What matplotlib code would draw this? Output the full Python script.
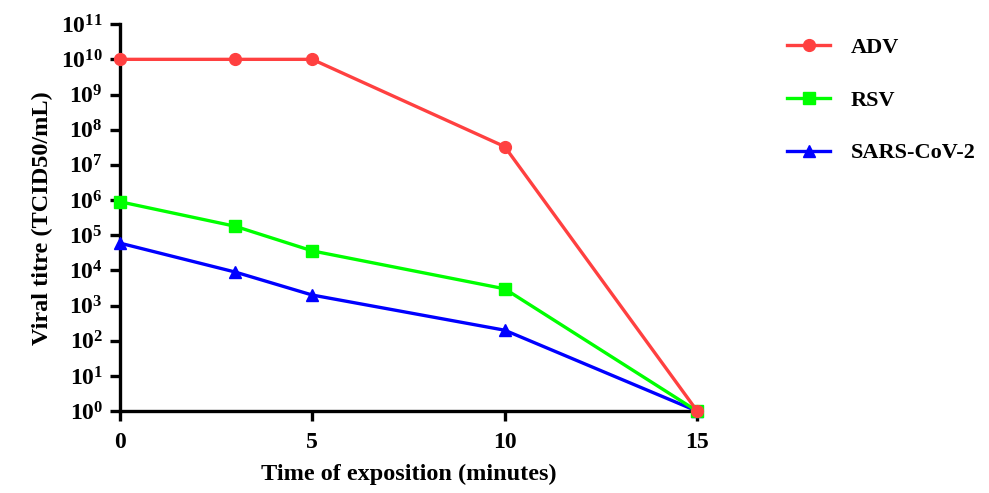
import numpy as np
import matplotlib
matplotlib.use('Agg')
import matplotlib.pyplot as plt
from matplotlib.ticker import FixedLocator, FuncFormatter, NullLocator

plt.rcParams['font.family'] = 'Liberation Serif'
plt.rcParams['font.weight'] = 'bold'
plt.rcParams['mathtext.fontset'] = 'custom'
plt.rcParams['mathtext.rm'] = 'Liberation Serif:bold'
plt.rcParams['mathtext.bf'] = 'Liberation Serif:bold'

# data
minutes = [0, 3, 5, 10, 15]
adv = [1e10, 1e10, 1e10, 3.3e7, 1]
rsv = [9e5, 1.8e5, 3.6e4, 3e3, 1]
sars = [6e4, 9e3, 2e3, 2e2, 1]
series_names = ['ADV', 'RSV', 'SARS-CoV-2']
series_colors = ['#FF4040', '#00FF00', '#0000FF']
series_markers = ['o', 's', '^']
xticks = [0, 5, 10, 15]
yexps = list(range(0, 12))

lineW = 2.4
tickSZ = 17
labelSZ = 17.5
legendSZ = 16

fig = plt.figure(figsize=(9.89, 4.93), dpi=100)
ax = fig.add_axes([0.121, 0.166, 0.584, 0.785])

# ADV drawn on top (as in the original where the red marker covers the others at 15 min)
zorders = [5, 4, 3]
for vals, name, col, mk, z in zip([adv, rsv, sars], series_names, series_colors, series_markers, zorders):
    ax.plot(minutes, vals, color=col, marker=mk, markersize=8.5, linewidth=lineW,
            label=name, clip_on=False, zorder=z)

ax.set_yscale('log')
ax.set_xlim(0, 15)
ax.set_ylim(1, 1e11)
ax.set_xticks(xticks)
ax.set_xticklabels([str(t) for t in xticks])
ax.yaxis.set_major_locator(FixedLocator([10.0 ** e for e in yexps]))
ax.yaxis.set_minor_locator(NullLocator())
ax.yaxis.set_major_formatter(FuncFormatter(lambda v, p: r'$\mathregular{10^{%d}}$' % int(round(np.log10(v)))))

for s in ['top', 'right']:
    ax.spines[s].set_visible(False)
for s in ['left', 'bottom']:
    ax.spines[s].set_linewidth(2.4)
ax.tick_params(axis='both', direction='out', length=7, width=2.4, labelsize=tickSZ, pad=5)
ax.tick_params(axis='x', pad=8)
for lbl in ax.get_xticklabels() + ax.get_yticklabels():
    lbl.set_fontweight('bold')

ax.set_xlabel('Time of exposition (minutes)', fontsize=labelSZ, fontweight='bold', labelpad=8)
ax.set_ylabel('Viral titre (TCID50/mL)', fontsize=labelSZ, fontweight='bold', labelpad=6)

fig.legend(loc='upper left', bbox_to_anchor=(0.776, 0.965), frameon=False,
           handlelength=1.9, handletextpad=0.95, labelspacing=1.45,
           prop={'weight': 'bold', 'size': legendSZ})

fig.savefig('out.png', dpi=100)
